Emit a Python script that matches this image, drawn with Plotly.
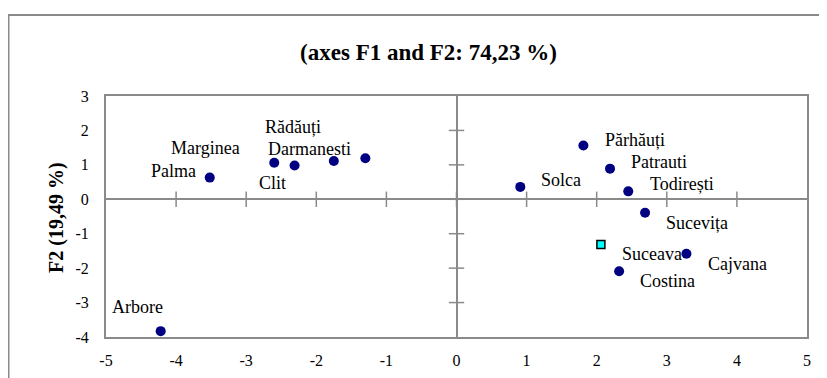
import plotly.graph_objects as go

# ---- data ----
names = ["Palma", "Marginea", "Clit", "Darmanesti", "Rădăuți", "Solca", "Părhăuți",
         "Patrauti", "Todirești", "Sucevița", "Cajvana", "Costina", "Arbore"]
f1 = [-3.52, -2.60, -2.31, -1.75, -1.30, 0.91, 1.81, 2.19, 2.45, 2.69, 3.28, 2.32, -4.22]
f2 = [0.63, 1.06, 0.98, 1.11, 1.19, 0.36, 1.56, 0.89, 0.23, -0.39, -1.58, -2.09, -3.83]

sup_names = ["Suceava"]
sup_f1 = [2.06]
sup_f2 = [-1.31]

x_ticks = [-5, -4, -3, -2, -1, 0, 1, 2, 3, 4, 5]
x_tick_labels = ["-5", "-4", "-3", "-2", "-1", "0", "1", "2", "3", "4", "5"]
y_ticks = [-4, -3, -2, -1, 0, 1, 2, 3]
y_tick_labels = ["-4", "-3", "-2", "-1", "0", "1", "2", "3"]

title_text = "(axes F1 and F2: 74,23 %)"
y_title = "F2 (19,49 %)"

# label offsets in pixels (dx, dy)
label_shift = {
    "Palma": (-36, 7), "Marginea": (-69, 15), "Clit": (-22, -17),
    "Darmanesti": (-24, 12), "Rădăuți": (-72, 31), "Solca": (41, 7),
    "Părhăuți": (52, 6), "Patrauti": (49, 7), "Todirești": (54, 7),
    "Sucevița": (52, -10), "Cajvana": (51, -10), "Costina": (48, -10),
    "Arbore": (-23, 24), "Suceava": (51, -10),
}

# ---- layout geometry (page has an 8px body margin) ----
OFF = 8
WIN_W, WIN_H = 827, 378
W, H = WIN_W - OFF, WIN_H - OFF
PL, PR, PT, PB = 106, 807, 96, 337        # plot area in window pixels
ML, MR, MT, MB = PL - OFF, W - (PR - OFF), PT - OFF, H - (PB - OFF)
PW, PH = W - ML - MR, H - MT - MB
GRAY = "#8a8a8a"
FONT = "Liberation Serif"

def px_to_paper_x(px):
    return (px - OFF - ML) / PW

def px_to_paper_y(py):
    return (H - MB - (py - OFF)) / PH

fig = go.Figure()

# tick marks crossing the zero lines
fig.add_trace(go.Scatter(
    x=x_ticks[1:-1], y=[0] * (len(x_ticks) - 2), mode="markers", hoverinfo="skip",
    marker=dict(symbol="line-ns", size=11, line=dict(color=GRAY, width=1.5)),
    showlegend=False))
fig.add_trace(go.Scatter(
    x=[0] * (len(y_ticks) - 2), y=y_ticks[1:-1], mode="markers", hoverinfo="skip",
    marker=dict(symbol="line-ew", size=11, line=dict(color=GRAY, width=1.5)),
    showlegend=False))

fig.add_trace(go.Scatter(
    x=f1, y=f2, mode="markers", text=names,
    marker=dict(symbol="circle", size=10, color="#000080"),
    showlegend=False))
fig.add_trace(go.Scatter(
    x=sup_f1, y=sup_f2, mode="markers", text=sup_names,
    marker=dict(symbol="square", size=8, color="#00ffff",
                line=dict(color="black", width=1.5)),
    showlegend=False))

for n, xv, yv in zip(names + sup_names, f1 + sup_f1, f2 + sup_f2):
    dx, dy = label_shift[n]
    fig.add_annotation(x=xv, y=yv, xref="x", yref="y", text=n, showarrow=False,
                       xshift=dx, yshift=dy,
                       font=dict(family=FONT, size=18, color="black"))

# y-axis title
fig.add_annotation(x=px_to_paper_x(56), y=px_to_paper_y(218), xref="paper", yref="paper",
                   xanchor="center", yanchor="middle",
                   text="<b>%s</b>" % y_title, textangle=-90, showarrow=False,
                   font=dict(family=FONT, size=20, color="black"))

# outer frame
fig.add_shape(type="rect", xref="paper", yref="paper",
              x0=px_to_paper_x(8.5), x1=px_to_paper_x(840),
              y0=px_to_paper_y(395), y1=px_to_paper_y(15),
              line=dict(color=GRAY, width=2), fillcolor="rgba(0,0,0,0)", layer="below")

axis_common = dict(showgrid=False, zeroline=True, zerolinecolor=GRAY, zerolinewidth=2,
                   showline=True, mirror=True, linecolor=GRAY, linewidth=2,
                   automargin=False, ticks="",
                   tickfont=dict(family=FONT, size=16, color="black"))

fig.update_layout(
    width=W, height=H,
    margin=dict(l=ML, r=MR, t=MT, b=MB),
    paper_bgcolor="white", plot_bgcolor="white",
    title=dict(text="<b>%s</b>" % title_text, x=(428.5 - OFF) / W, xref="container",
               xanchor="center", y=1 - (52 - OFF) / H, yref="container", yanchor="middle",
               font=dict(family=FONT, size=23, color="black")),
    xaxis=dict(range=[x_ticks[0], x_ticks[-1]], tickvals=x_ticks, ticktext=x_tick_labels,
               ticklabelstandoff=8, **axis_common),
    yaxis=dict(range=[y_ticks[0], y_ticks[-1]], tickvals=y_ticks, ticktext=y_tick_labels,
               ticklabelstandoff=12, **axis_common),
)

fig.write_html("out.html")
